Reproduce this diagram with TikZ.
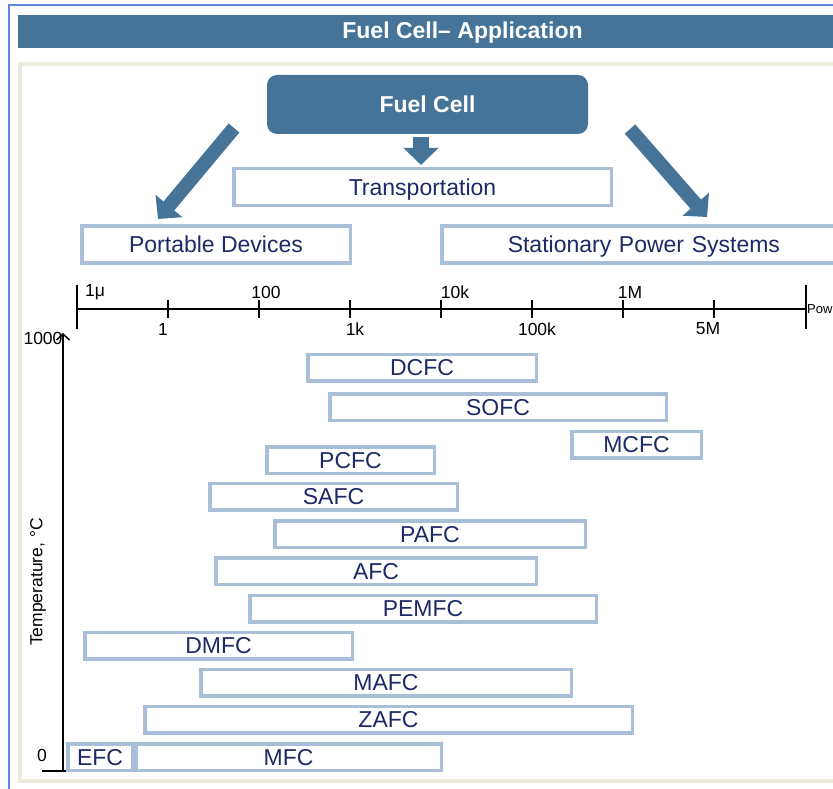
\documentclass[tikz,border=0pt]{standalone}
\usepackage{fontspec}
\setmainfont{Liberation Sans}
\usetikzlibrary{arrows.meta}
\definecolor{fcblue}{RGB}{70,116,152}
\definecolor{fcedge}{RGB}{168,191,215}
\definecolor{fcnavy}{RGB}{30,42,102}
\definecolor{fcbeige}{RGB}{237,234,222}
\definecolor{fcframe}{RGB}{95,135,220}
\begin{document}
\begin{tikzpicture}[x=1pt, y=-1pt,
        fcbar/.style={draw=fcedge, line width=3.5pt, fill=white, inner sep=0pt,
            minimum height=26.5pt, text height=18pt, text depth=1.5pt,
            text=fcnavy, font=\fontsize{23}{27}\selectfont},
        fcbox/.style={fcbar, minimum height=37pt},
        fcarrow/.style={fcblue, line width=14pt, -{Triangle[width=34pt,length=17pt]}},
        axlabel/.style={font=\fontsize{17.5}{20}\selectfont, inner sep=0pt}]
    \useasboundingbox (0,0) rectangle (833,789);
    \clip (0,0) rectangle (833,789);
    \fill [white] (0,0) rectangle (833,789);
    % frame and title bar
    \draw [fcframe, line width=1.5pt] (9,800) -- (9,5) -- (850,5);
    \fill [fcblue] (18,15) rectangle (850,48);
    \node [text=white, text height=16pt, text depth=1pt, font=\bfseries\fontsize{23}{26}\selectfont] (title) at (462.5,31.5) {Fuel Cell-- Application};
    \draw [fcbeige, line width=4pt] (20,64) rectangle (850,781);
    % fuel cell and its uses
    \node [fill=fcblue, rounded corners=10pt, minimum width=321pt, minimum height=59pt,
        text=white, font=\bfseries\fontsize{23}{26}\selectfont] (fuelcell) at (427.5,104.5) {Fuel Cell};
    \node [fcbox, minimum width=377.5pt] (transport) at (422.5,187) {Transportation};
    \node [fcbox, minimum width=268.5pt] (portable) at (216,244.5) {Portable Devices};
    \node [fcbox, minimum width=500pt, text width=440pt, align=left] (stationary) at (691.75,244.5) {\hspace*{36pt}Stationary Power Systems};
    \coordinate (pdtail) at (234,128);
    \coordinate (pdtip) at (158,219);
    \coordinate (trtail) at (421,137);
    \coordinate (trtip) at (421,165);
    \coordinate (sptail) at (630,129);
    \coordinate (sptip) at (707,217);
    \draw [fcarrow] (pdtail) -- (pdtip);
    \draw [fcarrow, line width=16pt] (trtail) -- (trtip);
    \draw [fcarrow] (sptail) -- (sptip);
    % power axis
    \coordinate (pstart) at (77,309);
    \coordinate (pend) at (806,309);
    \draw [line width=1.5pt] (pstart) -- (pend);
    \draw [line width=2pt] (77,285) -- (77,329);
    \draw [line width=2pt] (806,285) -- (806,329);
    \draw [line width=1.5pt] (168,300) -- (168,318);
    \draw [line width=1.5pt] (259,300) -- (259,318);
    \draw [line width=1.5pt] (350,300) -- (350,318);
    \draw [line width=1.5pt] (441,300) -- (441,318);
    \draw [line width=1.5pt] (532,300) -- (532,318);
    \draw [line width=1.5pt] (623,300) -- (623,318);
    \draw [line width=1.5pt] (714,300) -- (714,318);
    \node [axlabel, anchor=west] (pmicro) at (85,292) {1μ};
    \node [axlabel] (phundred) at (266,292) {100};
    \node [axlabel] (ptenk) at (455,292) {10k};
    \node [axlabel] (pmega) at (630,292) {1M};
    \node [axlabel] (pone) at (163,329) {1};
    \node [axlabel] (pkilo) at (355,329) {1k};
    \node [axlabel] (phundredk) at (537,329) {100k};
    \node [axlabel] (pfivem) at (708,329) {5M};
    \node [axlabel, anchor=west, font=\fontsize{13}{15}\selectfont] (power) at (807,309) {Pow};
    % temperature axis
    \coordinate (origin) at (63,771);
    \coordinate (ttop) at (63,333);
    \draw [line width=1.5pt, -{Straight Barb[length=6pt,width=13pt]}] (origin) -- (ttop);
    \draw [line width=2pt] (42,771) -- (94,771);
    \node [axlabel] (tmax) at (43,338) {1000};
    \node [axlabel] (tmin) at (42,755) {0};
    \node [axlabel, rotate=90] (templabel) at (38,582) {Temperature, °C};
    % fuel cell types
    \node [fcbar, minimum width=228.5pt] (dcfc) at (422,367.5) {DCFC};
    \node [fcbar, minimum width=336.5pt] (sofc) at (498,407) {SOFC};
    \node [fcbar, minimum width=129.5pt] (mcfc) at (636.5,444.5) {MCFC};
    \node [fcbar, minimum width=167.5pt] (pcfc) at (350.5,460) {PCFC};
    \node [fcbar, minimum width=247.5pt] (safc) at (333.5,496.5) {SAFC};
    \node [fcbar, minimum width=310.5pt] (pafc) at (430,534) {PAFC};
    \node [fcbar, minimum width=320.5pt] (afc) at (376,571) {AFC};
    \node [fcbar, minimum width=346.5pt] (pemfc) at (423,608.5) {PEMFC};
    \node [fcbar, minimum width=267.5pt] (dmfc) at (218.5,645.5) {DMFC};
    \node [fcbar, minimum width=370.5pt] (mafc) at (386,682.5) {MAFC};
    \node [fcbar, minimum width=487.5pt] (zafc) at (388.5,719.5) {ZAFC};
    \node [fcbar, minimum width=305.5pt] (mfc) at (288.5,757) {MFC};
    \node [fcbar, minimum width=64.5pt] (efc) at (100,757) {EFC};
\end{tikzpicture}
\end{document}
